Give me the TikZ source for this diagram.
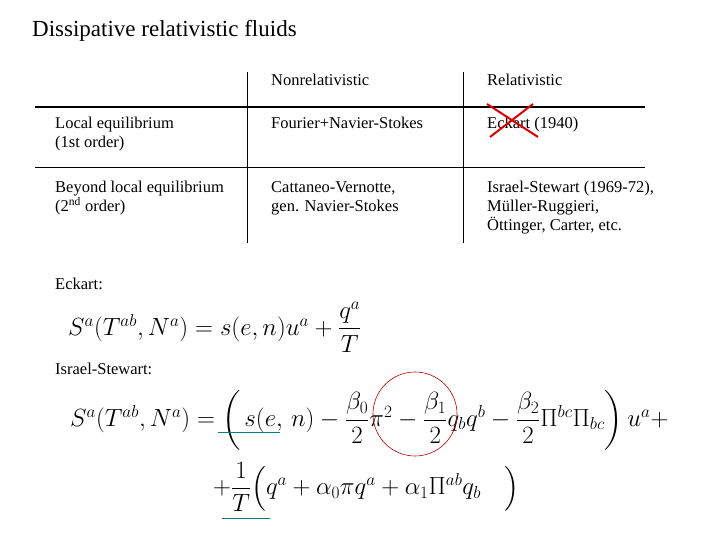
\documentclass[tikz,border=0pt]{standalone}
\usepackage{amsmath}
\usepackage{fontspec}
\setmainfont{Liberation Serif}
\begin{document}
\begin{tikzpicture}[x=1pt,y=-1pt,
  txt/.style={anchor=north west,inner sep=0pt,font=\fontsize{16.5}{19}\selectfont,align=left},
  eq/.style={anchor=west,inner sep=0pt,font=\fontsize{24}{28}\selectfont}]
\useasboundingbox (0,0) rectangle (720,540);
\node[anchor=west,inner sep=0pt,font=\fontsize{23}{27}\selectfont] (title) at (32,31) {Dissipative relativistic fluids};
\coordinate (h1l) at (35,107); \coordinate (h1r) at (645,107);
\coordinate (h2l) at (35,167); \coordinate (h2r) at (645,167);
\coordinate (v1t) at (247,72); \coordinate (v1b) at (247,243);
\coordinate (v2t) at (463,72); \coordinate (v2b) at (463,243);
\draw[line width=1.6pt] (h1l) -- (h1r);
\draw[line width=0.6pt] (h2l) -- (h2r);
\draw[line width=1pt] (v1t) -- (v1b);
\draw[line width=1pt] (v2t) -- (v2b);
\node[txt] (c1) at (271,74) {Nonrelativistic};
\node[txt] (c2) at (487,74) {Relativistic};
\node[txt] (r1) at (55,117) {Local equilibrium\\(1st order)};
\node[txt] (r1a) at (271,117) {Fourier+Navier-Stokes};
\node[txt] (r1b) at (487,117) {Eckart (1940)};
\node[txt] (r2) at (55,181) {Beyond local equilibrium\\(2\textsuperscript{nd} order)};
\node[txt] (r2a) at (271,181) {Cattaneo-Vernotte,\\gen. Navier-Stokes};
\node[txt] (r2b) at (487,181) {Israel-Stewart (1969-72),\\Müller-Ruggieri,\\Öttinger, Carter, etc.};
\coordinate (xa) at (487,104); \coordinate (xb) at (538,137);
\coordinate (xc) at (533,104); \coordinate (xd) at (490,137);
\draw[red!85!black,line width=2pt] (xa) -- (xb) (xc) -- (xd);
\node[txt] (ek) at (55,278) {Eckart:};
\node[eq] (e1) at (68,327) {$S^a(T^{ab},N^a)=s(e,n)u^a+\dfrac{q^a}{T}$};
\node[txt] (is) at (55,363) {Israel-Stewart:};
\node[eq] (e2) at (70,420) {$S^a(T^{ab},N^a)=\left(\,s(e,\,n)-\dfrac{\beta_0}{2}\pi^2-\dfrac{\beta_1}{2}q_bq^b-\dfrac{\beta_2}{2}\Pi^{bc}\Pi_{bc}\right)u^a+$};
\node[eq] (e3) at (213,487) {$+\dfrac{1}{T}\Bigl(q^a+\alpha_0\pi q^a+\alpha_1\Pi^{ab}q_b\quad\Bigr)$};
\coordinate (ccen) at (415,414);
\draw[red!70!black,line width=0.6pt] (ccen) circle (42);
\coordinate (u1a) at (218,432); \coordinate (u1b) at (280,432);
\coordinate (u2a) at (222,518); \coordinate (u2b) at (270,518);
\draw[teal,line width=0.8pt] (u1a) -- (u1b) (u2a) -- (u2b);
\end{tikzpicture}
\end{document}
